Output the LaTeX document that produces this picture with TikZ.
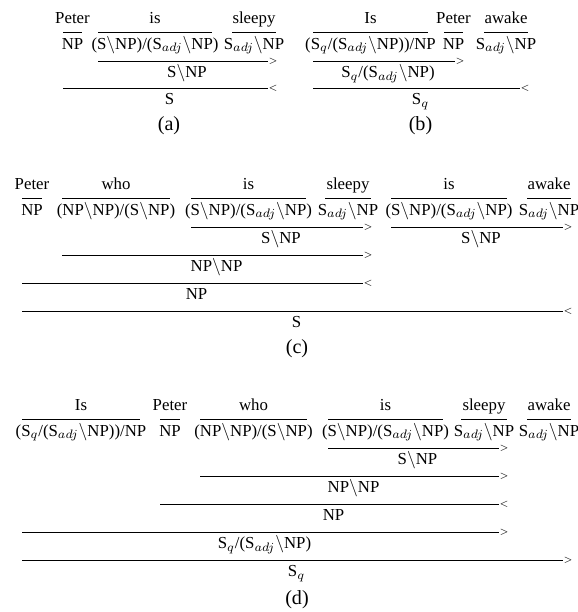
\documentclass[tikz,border=0pt]{standalone}
\usepackage{fontspec}
\setmainfont{Liberation Serif}
\usepackage{tikz}
\newcommand{\bsl}{$\backslash$}
\newcommand{\Sadj}{S$_{adj}$}
\newcommand{\Sq}{S$_q$}

\begin{document}
\begin{tikzpicture}[x=0.5714pt,y=-0.5714pt,
  font=\fontsize{9.6}{11}\selectfont,
  word/.style={anchor=base,inner sep=0pt},
  cat/.style={anchor=base,inner sep=0pt},
  caption/.style={anchor=base,inner sep=0pt,font=\fontsize{11.5}{13}\selectfont},
  lex/.style={line width=.5pt},
  comb/.style={line width=.5pt},
  opsign/.style={anchor=west,inner sep=0pt,font=\tiny}]

\path[use as bounding box] (0,0) rectangle (578,612);

% (a)
\foreach \l/\r/\w/\c [count=\i] in {63/82/Peter/NP,98/212/is/{(S\bsl NP)/(\Sadj\bsl NP)},232/276/sleepy/{\Sadj\bsl NP}}{
  \node[word] (a-w\i) at ({(\l+\r)/2},23) {\w};
  \draw[lex] (\l,32) -- (\r,32);
  \node[cat] (a-c\i) at ({(\l+\r)/2},49) {\c};
}
\foreach \l/\r/\y/\op/\res [count=\i] in {98/276/61/>/{S\bsl NP},63/276/88/</S}{
  \draw[comb] (\l,\y) -- ({\r-8},\y) node[opsign] (a-o\i) {$\op$};
  \node[cat] (a-r\i) at ({(\l+\r)/2},{\y+16.5}) {\res};
}
\node[caption] (a-cap) at (169,130) {(a)};

% (b)
\foreach \l/\r/\w/\c [count=\i] in {313/428/Is/{(\Sq/(\Sadj\bsl NP))/NP},444/463/Peter/NP,484/528/awake/{\Sadj\bsl NP}}{
  \node[word] (b-w\i) at ({(\l+\r)/2},23) {\w};
  \draw[lex] (\l,32) -- (\r,32);
  \node[cat] (b-c\i) at ({(\l+\r)/2},49) {\c};
}
\foreach \l/\r/\y/\op/\res [count=\i] in {313/463/61/>/{\Sq/(\Sadj\bsl NP)},313/528/88/</\Sq}{
  \draw[comb] (\l,\y) -- ({\r-8},\y) node[opsign] (b-o\i) {$\op$};
  \node[cat] (b-r\i) at ({(\l+\r)/2},{\y+16.5}) {\res};
}
\node[caption] (b-cap) at (420.5,130) {(b)};

% (c)
\foreach \l/\r/\w/\c [count=\i] in {22/42/Peter/NP,62/170/who/{(NP\bsl NP)/(S\bsl NP)},191/306/is/{(S\bsl NP)/(\Sadj\bsl NP)},325/371/sleepy/{\Sadj\bsl NP},391/507/is/{(S\bsl NP)/(\Sadj\bsl NP)},527/571/awake/{\Sadj\bsl NP}}{
  \node[word] (c-w\i) at ({(\l+\r)/2},189) {\w};
  \draw[lex] (\l,198) -- (\r,198);
  \node[cat] (c-c\i) at ({(\l+\r)/2},215) {\c};
}
\foreach \l/\r/\y/\op/\res [count=\i] in {191/371/227/>/{S\bsl NP},391/571/227/>/{S\bsl NP},62/371/255/>/{NP\bsl NP},22/371/283/</NP,22/571/311/</S}{
  \draw[comb] (\l,\y) -- ({\r-8},\y) node[opsign] (c-o\i) {$\op$};
  \node[cat] (c-r\i) at ({(\l+\r)/2},{\y+16.5}) {\res};
}
\node[caption] (c-cap) at (297,353.5) {(c)};

% (d)
\foreach \l/\r/\w/\c [count=\i] in {22/140/Is/{(\Sq/(\Sadj\bsl NP))/NP},160/180/Peter/NP,200/307/who/{(NP\bsl NP)/(S\bsl NP)},328/443/is/{(S\bsl NP)/(\Sadj\bsl NP)},461/507/sleepy/{\Sadj\bsl NP},527/571/awake/{\Sadj\bsl NP}}{
  \node[word] (d-w\i) at ({(\l+\r)/2},410) {\w};
  \draw[lex] (\l,419) -- (\r,419);
  \node[cat] (d-c\i) at ({(\l+\r)/2},436) {\c};
}
\foreach \l/\r/\y/\op/\res [count=\i] in {328/507/448/>/{S\bsl NP},200/507/476/>/{NP\bsl NP},160/507/504/</NP,22/507/532/>/{\Sq/(\Sadj\bsl NP)},22/571/560/>/\Sq}{
  \draw[comb] (\l,\y) -- ({\r-8},\y) node[opsign] (d-o\i) {$\op$};
  \node[cat] (d-r\i) at ({(\l+\r)/2},{\y+16.5}) {\res};
}
\node[caption] (d-cap) at (297,604) {(d)};

\end{tikzpicture}
\end{document}
